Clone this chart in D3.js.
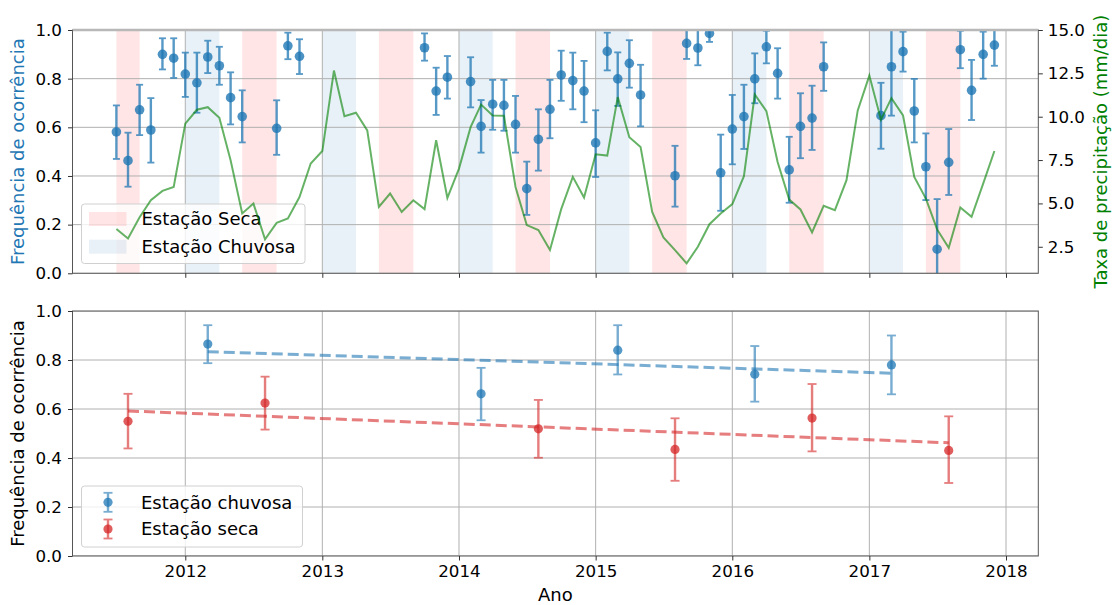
<!DOCTYPE html>
<html>
<head>
<meta charset="utf-8">
<script src="https://cdn.jsdelivr.net/npm/d3@7"></script>
<style>
  body { margin: 0; background: #fff; }
  text { font-family: "DejaVu Sans", sans-serif; fill: #000; }
</style>
</head>
<body>
<svg id="chart" width="1113" height="605"></svg>
<script>
// ---------- Monthly occurrence frequency (with confidence bounds) ----------
const freqMonths = [
  "2011-07","2011-08","2011-09","2011-10","2011-11","2011-12",
  "2012-01","2012-02","2012-03","2012-04","2012-05","2012-06","2012-09","2012-10","2012-11",
  "2013-10","2013-11","2013-12",
  "2014-02","2014-03","2014-04","2014-05","2014-06","2014-07","2014-08","2014-09","2014-10","2014-11","2014-12",
  "2015-01","2015-02","2015-03","2015-04","2015-05","2015-08","2015-09","2015-10","2015-11","2015-12",
  "2016-01","2016-02","2016-03","2016-04","2016-05","2016-06","2016-07","2016-08","2016-09",
  "2017-02","2017-03","2017-04","2017-05","2017-06","2017-07","2017-08","2017-09","2017-10","2017-11","2017-12"
];
const freqValues = [
  0.581,0.463,0.672,0.589,0.900,0.884,
  0.819,0.783,0.889,0.853,0.722,0.644,0.596,0.935,0.892,
  0.927,0.749,0.806,
  0.788,0.604,0.695,0.690,0.612,0.348,0.551,0.674,0.815,0.792,0.749,
  0.536,0.912,0.799,0.863,0.733,0.401,0.945,0.926,0.986,0.413,
  0.593,0.644,0.799,0.931,0.822,0.425,0.604,0.638,0.849,
  0.648,0.849,0.911,0.667,0.438,0.099,0.456,0.919,0.752,0.900,0.938
];
const freqLower = [
  0.470,0.356,0.568,0.455,0.838,0.803,
  0.725,0.660,0.823,0.775,0.612,0.538,0.487,0.880,0.819,
  0.874,0.651,0.718,
  0.682,0.496,0.590,0.586,0.496,0.240,0.422,0.555,0.709,0.674,0.621,
  0.396,0.834,0.688,0.763,0.604,0.274,0.881,0.855,0.951,0.257,
  0.448,0.511,0.699,0.863,0.718,0.290,0.473,0.507,0.750,
  0.512,0.648,0.829,0.538,0.301,-0.110,0.322,0.843,0.630,0.800,0.853
];
const freqUpper = [
  0.690,0.578,0.775,0.720,0.966,0.966,
  0.907,0.907,0.956,0.931,0.826,0.752,0.711,0.989,0.962,
  0.986,0.845,0.893,
  0.888,0.712,0.795,0.795,0.729,0.459,0.674,0.795,0.915,0.907,0.873,
  0.670,0.989,0.908,0.958,0.857,0.524,1.010,1.005,1.010,0.570,
  0.733,0.775,0.904,0.997,0.925,0.561,0.740,0.771,0.949,
  0.783,1.030,0.993,0.799,0.575,0.305,0.593,0.997,0.877,0.993,1.005
];

// ---------- Monthly precipitation rate (mm/dia), Jul 2011 – Dec 2017 ----------
const precipStart = "2011-07";
const precipValues = [
  3.52,2.98,4.20,5.18,5.72,5.95,
  9.60,10.40,10.55,9.94,7.49,4.42,4.99,2.93,3.88,4.13,5.37,7.30,
  8.02,12.66,10.03,10.23,9.21,4.80,5.57,4.51,5.18,4.67,8.64,5.32,
  7.01,9.40,10.70,10.07,10.06,5.95,3.75,3.46,2.31,4.67,6.53,5.34,
  7.83,7.76,11.13,8.82,8.25,4.51,3.04,2.31,1.54,2.50,3.80,4.42,
  4.96,6.57,11.28,10.32,7.39,5.22,4.65,3.33,4.86,4.61,6.34,10.36,
  12.37,9.83,11.07,10.07,6.53,5.28,3.50,2.44,4.77,4.23,6.14,8.02
];

// ---------- Season spans [start month, end month) ----------
const dryStarts = ["2011-07","2012-06","2013-06","2014-06","2015-06","2016-06","2017-06"];
const dryEnds   = ["2011-09","2012-09","2013-09","2014-09","2015-09","2016-09","2017-09"];
const wetStarts = ["2012-01","2013-01","2014-01","2015-01","2016-01","2017-01"];
const wetEnds   = ["2012-04","2013-04","2014-04","2015-04","2016-04","2017-04"];

// ---------- Seasonal means ----------
const wetDates  = ["2012-03-01","2014-03-01","2015-03-01","2016-03-01","2017-03-01"];
const wetValues = [0.865,0.662,0.840,0.742,0.780];
const wetLower  = [0.787,0.554,0.741,0.630,0.660];
const wetUpper  = [0.942,0.768,0.942,0.857,0.900];
const wetTrend  = [0.834,0.746];

const dryDates  = ["2011-08-01","2012-08-01","2014-08-01","2015-08-01","2016-08-01","2017-08-01"];
const dryValues = [0.550,0.624,0.519,0.435,0.563,0.431];
const dryLower  = [0.439,0.516,0.401,0.307,0.427,0.298];
const dryUpper  = [0.662,0.732,0.637,0.562,0.702,0.570];
const dryTrend  = [0.592,0.462];

const freqTicks   = [0, 0.2, 0.4, 0.6, 0.8, 1.0];
const precipTicks = [2.5, 5.0, 7.5, 10.0, 12.5, 15.0];
const yearTicks   = ["2012","2013","2014","2015","2016","2017","2018"];

// ---------- Layout ----------
const svg = d3.select("#chart");
const L = 72.5, R = 1038.3;
const T1 = 30, B1 = 273.3, T2 = 311, B2 = 556;
const C0 = "#1f77b4", C3 = "#d62728", GREEN = "#008000";
const tickFont = "16.7px", labelFont = "18px";

const parseMonth = d3.timeParse("%Y-%m");
const parseDay = d3.timeParse("%Y-%m-%d");
const parseYear = d3.timeParse("%Y");

const precipDates = d3.timeMonth.range(parseMonth(precipStart),
  d3.timeMonth.offset(parseMonth(precipStart), precipValues.length));
const t0 = precipDates[0], t1 = precipDates[precipDates.length - 1];
const pad = (t1 - t0) * 0.05;
const x = d3.scaleTime().domain([new Date(+t0 - pad), new Date(+t1 + pad)]).range([L, R]);

const yTop = d3.scaleLinear().domain([0, 1]).range([B1, T1]);
const yPrec = d3.scaleLinear().domain([0.97, 15]).range([B1, T1]);
const yBot = d3.scaleLinear().domain([0, 1]).range([B2, T2]);

const defs = svg.append("defs");
defs.append("clipPath").attr("id", "clipTop").append("rect")
  .attr("x", L).attr("y", T1).attr("width", R - L).attr("height", B1 - T1);
defs.append("clipPath").attr("id", "clipBot").append("rect")
  .attr("x", L).attr("y", T2).attr("width", R - L).attr("height", B2 - T2);

const years = yearTicks.map(parseYear);

function grid(g, y, ticks, y0, y1) {
  g.selectAll(".gx").data(years).join("line")
    .attr("x1", d => x(d)).attr("x2", d => x(d)).attr("y1", y0).attr("y2", y1)
    .attr("stroke", "#b0b0b0").attr("stroke-width", 1);
  g.selectAll(".gy").data(ticks).join("line")
    .attr("x1", L).attr("x2", R).attr("y1", d => y(d)).attr("y2", d => y(d))
    .attr("stroke", "#b0b0b0").attr("stroke-width", 1);
}

function errorbars(g, dates, vals, lo, hi, y, color, o) {
  const n = vals.length;
  for (let i = 0; i < n; i++) {
    const cx = x(dates[i]);
    const eg = g.append("g").attr("opacity", o.barAlpha);
    eg.append("line").attr("x1", cx).attr("x2", cx).attr("y1", y(lo[i])).attr("y2", y(hi[i]))
      .attr("stroke", color).attr("stroke-width", o.bw);
    [lo[i], hi[i]].forEach(v => {
      eg.append("line").attr("x1", cx - o.cap).attr("x2", cx + o.cap)
        .attr("y1", y(v)).attr("y2", y(v)).attr("stroke", color).attr("stroke-width", o.cw);
    });
    g.append("circle").attr("cx", cx).attr("cy", y(vals[i])).attr("r", o.r)
      .attr("fill", color).attr("opacity", o.ptAlpha);
  }
}

function spines(g, y0, y1) {
  g.append("rect").attr("x", L).attr("y", y0).attr("width", R - L).attr("height", y1 - y0)
    .attr("fill", "none").attr("stroke", "#555").attr("stroke-width", 1);
}

function yAxisLeft(g, y) {
  const ax = g.append("g").attr("transform", `translate(${L},0)`)
    .call(d3.axisLeft(y).tickValues(freqTicks).tickFormat(d3.format(".1f")).tickSize(4.5).tickPadding(6));
  ax.select(".domain").remove();
  ax.selectAll("text").style("font-size", tickFont).attr("fill", "#000");
  ax.selectAll("line").attr("stroke", "#333");
}

// ================= Upper panel =================
const topG = svg.append("g");
const topClip = topG.append("g").attr("clip-path", "url(#clipTop)");

topClip.selectAll(".dry").data(dryStarts).join("rect")
  .attr("x", d => x(parseMonth(d)))
  .attr("width", (d, i) => x(parseMonth(dryEnds[i])) - x(parseMonth(d)))
  .attr("y", T1).attr("height", B1 - T1)
  .attr("fill", "red").attr("fill-opacity", 0.1);
topClip.selectAll(".wet").data(wetStarts).join("rect")
  .attr("x", d => x(parseMonth(d)))
  .attr("width", (d, i) => x(parseMonth(wetEnds[i])) - x(parseMonth(d)))
  .attr("y", T1).attr("height", B1 - T1)
  .attr("fill", C0).attr("fill-opacity", 0.1);

grid(topClip.append("g"), yTop, freqTicks, T1, B1);

errorbars(topClip.append("g"), freqMonths.map(parseMonth), freqValues, freqLower, freqUpper, yTop, C0,
  { bw: 2.4, cw: 1.8, cap: 3.5, r: 4.8, barAlpha: 0.75, ptAlpha: 0.8 });

// Legend of seasons
const lg1 = topG.append("g");
lg1.append("rect").attr("x", 81.5).attr("y", 204).attr("width", 223.5).attr("height", 59.5)
  .attr("rx", 3).attr("fill", "#fff").attr("fill-opacity", 0.8)
  .attr("stroke", "#d0d0d0").attr("stroke-width", 1);
const seasonLegend = [["Estação Seca", "red"], ["Estação Chuvosa", C0]];
seasonLegend.forEach((d, i) => {
  const cy = 219 + i * 27.7;
  lg1.append("rect").attr("x", 89).attr("y", cy - 7).attr("width", 37.5).attr("height", 14)
    .attr("fill", d[1]).attr("fill-opacity", 0.1);
  lg1.append("text").attr("x", 141.5).attr("y", cy).attr("dy", "0.36em")
    .style("font-size", labelFont).text(d[0]);
});

// Precipitation line on the twin axis (drawn above the legend)
topG.append("g").attr("clip-path", "url(#clipTop)")
  .append("path").datum(precipValues)
  .attr("d", d3.line().x((d, i) => x(precipDates[i])).y(d => yPrec(d)))
  .attr("fill", "none").attr("stroke", GREEN).attr("stroke-opacity", 0.6).attr("stroke-width", 2);

spines(topG, T1, B1);
topG.append("line").attr("x1", L).attr("x2", R).attr("y1", T1).attr("y2", T1)
  .attr("stroke", "#b8b8b8").attr("stroke-width", 2.5);

yAxisLeft(topG, yTop);
const xTopAx = topG.append("g").attr("transform", `translate(0,${B1})`)
  .call(d3.axisBottom(x).tickValues(years).tickFormat("").tickSize(4.5));
xTopAx.select(".domain").remove();
xTopAx.selectAll("line").attr("stroke", "#333");

const rAx = topG.append("g").attr("transform", `translate(${R},0)`)
  .call(d3.axisRight(yPrec).tickValues(precipTicks).tickFormat(d3.format(".1f")).tickSize(4.5).tickPadding(5));
rAx.select(".domain").remove();
rAx.selectAll("text").style("font-size", tickFont).attr("fill", "#000");
rAx.selectAll("line").attr("stroke", "#333");

topG.append("text")
  .attr("transform", `translate(18,${(T1 + B1) / 2}) rotate(-90)`)
  .attr("text-anchor", "middle").attr("dy", "0.35em")
  .style("font-size", labelFont).style("fill", C0)
  .text("Frequência de ocorrência");
topG.append("text")
  .attr("transform", `translate(1101,${(T1 + B1) / 2}) rotate(-90)`)
  .attr("text-anchor", "middle").attr("dy", "0.35em")
  .style("font-size", labelFont).style("fill", GREEN)
  .text("Taxa de precipitação (mm/dia)");

// ================= Lower panel =================
const botG = svg.append("g");
const botClip = botG.append("g").attr("clip-path", "url(#clipBot)");
grid(botClip.append("g"), yBot, freqTicks, T2, B2);

const wetD = wetDates.map(parseDay), dryD = dryDates.map(parseDay);
errorbars(botClip.append("g"), wetD, wetValues, wetLower, wetUpper, yBot, C0,
  { bw: 2.4, cw: 1.8, cap: 4.5, r: 4.6, barAlpha: 0.6, ptAlpha: 0.75 });
errorbars(botClip.append("g"), dryD, dryValues, dryLower, dryUpper, yBot, C3,
  { bw: 2.4, cw: 1.8, cap: 4.5, r: 4.6, barAlpha: 0.6, ptAlpha: 0.75 });

const trendLine = d3.line().x(d => x(d[0])).y(d => yBot(d[1]));
botClip.append("path")
  .datum([[wetD[0], wetTrend[0]], [wetD[wetD.length - 1], wetTrend[1]]])
  .attr("d", trendLine).attr("fill", "none").attr("stroke", C0).attr("stroke-opacity", 0.6)
  .attr("stroke-width", 3).attr("stroke-dasharray", "11,5");
botClip.append("path")
  .datum([[dryD[0], dryTrend[0]], [dryD[dryD.length - 1], dryTrend[1]]])
  .attr("d", trendLine).attr("fill", "none").attr("stroke", C3).attr("stroke-opacity", 0.6)
  .attr("stroke-width", 3).attr("stroke-dasharray", "11,5");

spines(botG, T2, B2);
yAxisLeft(botG, yBot);
const xBotAx = botG.append("g").attr("transform", `translate(0,${B2})`)
  .call(d3.axisBottom(x).tickValues(years).tickFormat(d3.timeFormat("%Y")).tickSize(4.5).tickPadding(5));
xBotAx.select(".domain").remove();
xBotAx.selectAll("text").style("font-size", tickFont).attr("fill", "#000");
xBotAx.selectAll("line").attr("stroke", "#333");

botG.append("text").attr("x", (L + R) / 2).attr("y", 601)
  .attr("text-anchor", "middle").style("font-size", labelFont).text("Ano");
botG.append("text")
  .attr("transform", `translate(18,${(T2 + B2) / 2}) rotate(-90)`)
  .attr("text-anchor", "middle").attr("dy", "0.35em")
  .style("font-size", labelFont).text("Frequência de ocorrência");

// Legend of seasonal means
const lg2 = botG.append("g");
lg2.append("rect").attr("x", 81.5).attr("y", 486).attr("width", 221).attr("height", 61)
  .attr("rx", 3).attr("fill", "#fff").attr("fill-opacity", 0.8)
  .attr("stroke", "#d0d0d0").attr("stroke-width", 1);
const meanLegend = [["Estação chuvosa", C0], ["Estação seca", C3]];
meanLegend.forEach((d, i) => {
  const cy = 502.3 + i * 26.7, cx = 108;
  const eg = lg2.append("g").attr("opacity", 0.6);
  eg.append("line").attr("x1", cx).attr("x2", cx).attr("y1", cy - 9.5).attr("y2", cy + 9.5)
    .attr("stroke", d[1]).attr("stroke-width", 2.4);
  [cy - 9.5, cy + 9.5].forEach(v => eg.append("line").attr("x1", cx - 4.5).attr("x2", cx + 4.5)
    .attr("y1", v).attr("y2", v).attr("stroke", d[1]).attr("stroke-width", 1.8));
  lg2.append("circle").attr("cx", cx).attr("cy", cy).attr("r", 4.6).attr("fill", d[1]).attr("opacity", 0.75);
  lg2.append("text").attr("x", 141).attr("y", cy).attr("dy", "0.36em")
    .style("font-size", labelFont).text(d[0]);
});
</script>
</body>
</html>
